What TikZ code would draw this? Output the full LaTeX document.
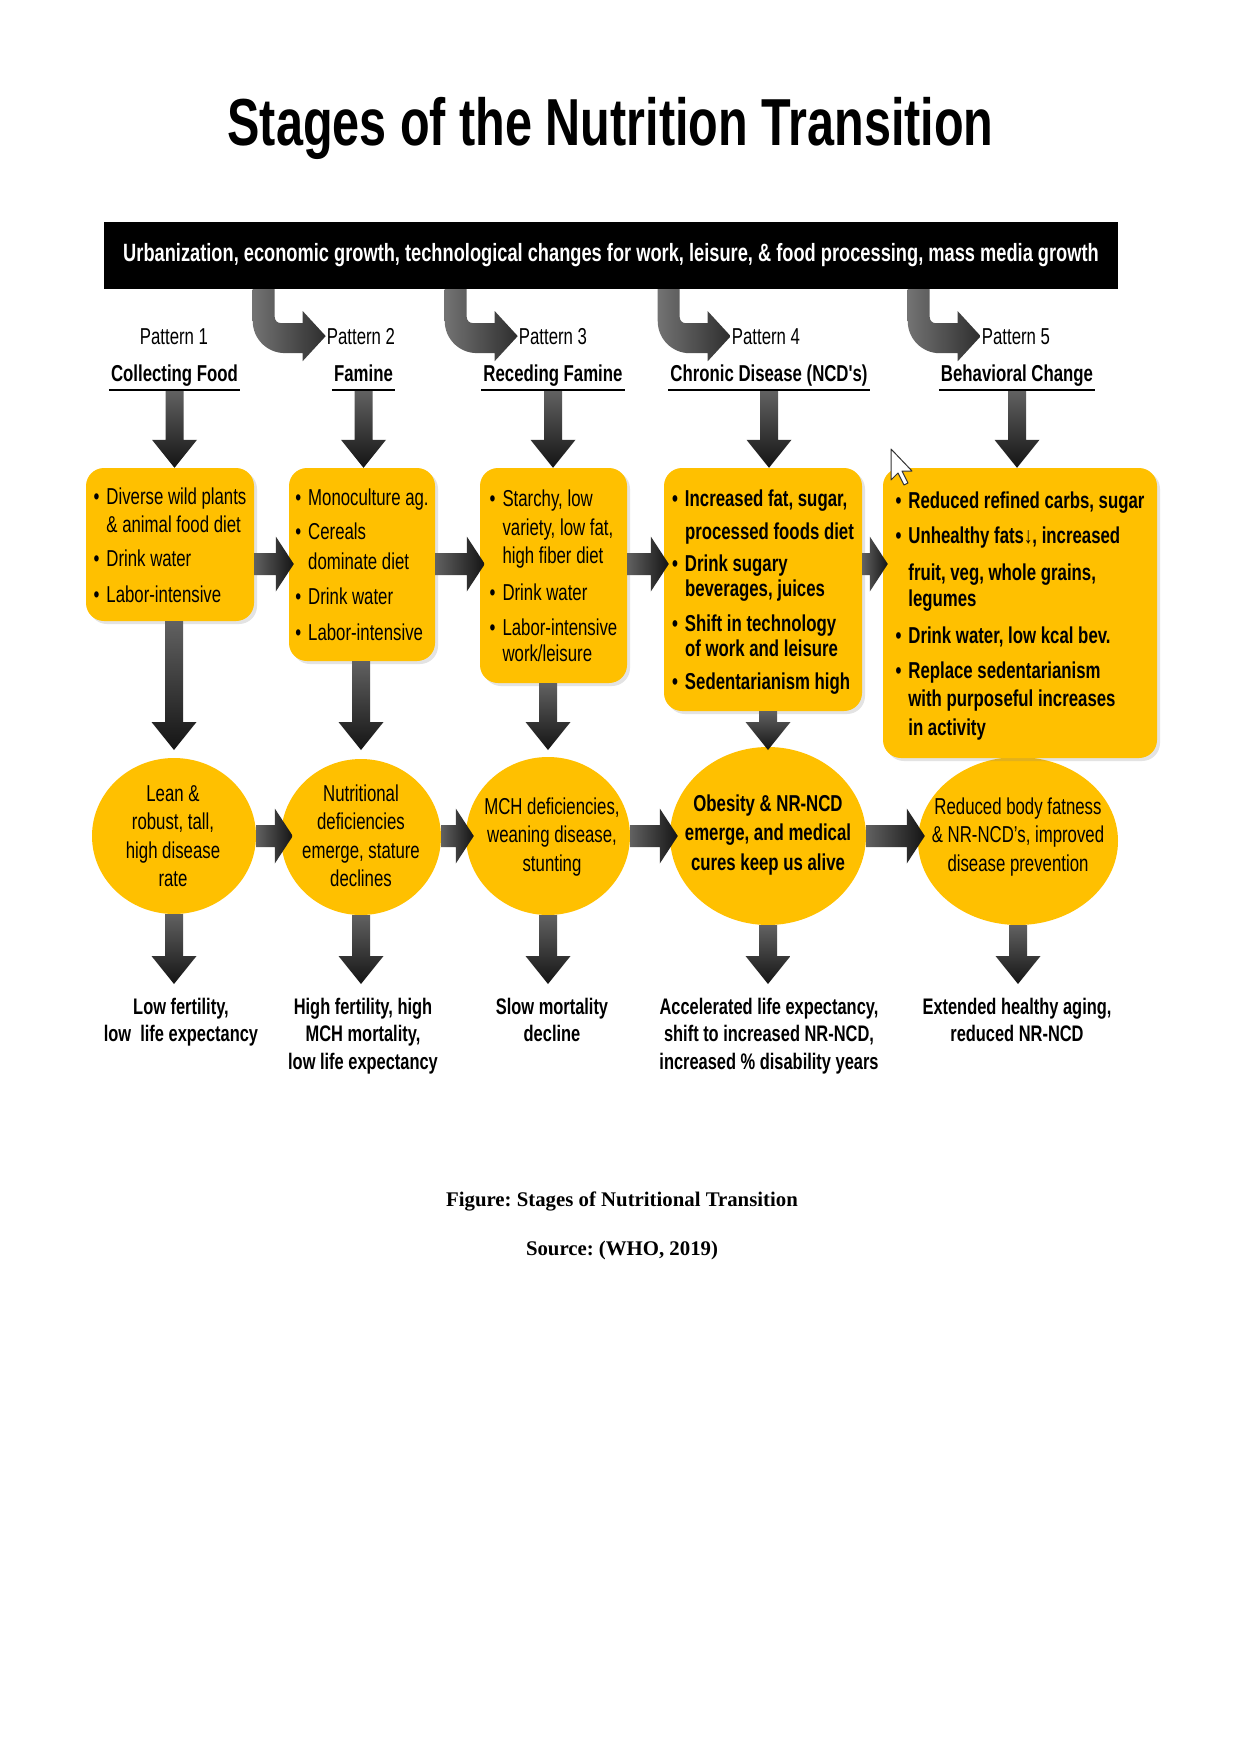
\documentclass[tikz,border=0pt]{standalone}
\usepackage{fontspec}
\usetikzlibrary{calc,shapes.geometric,shadows}
\newfontfamily\nar{Liberation Sans}[FakeStretch=0.73]
\newfontfamily\capfont{Liberation Serif}
\definecolor{gold}{RGB}{255,192,0}
\colorlet{arrA}{black!62}
\colorlet{arrB}{black!92}
\newcommand\dn[1]{\raisebox{-3.5pt}[\height][\depth]{#1}}
% vertical fat arrow: start (y only used), tip
\newcommand\varr[2]{\shade[top color=arrA,bottom color=arrB] let \p1=(#1),\p2=(#2) in
  (\x2-9pt,\y1) -- (\x2+9pt,\y1) -- (\x2+9pt,\y2+28pt) -- (\x2+22.5pt,\y2+28pt) -- (\x2,\y2)
  -- (\x2-22.5pt,\y2+28pt) -- (\x2-9pt,\y2+28pt) -- cycle;}
% horizontal fat arrow: start (x only used), tip
\newcommand\harr[2]{\shade[left color=arrA,right color=arrB] let \p1=(#1),\p2=(#2) in
  (\x1,\y2+11pt) -- (\x2-18pt,\y2+11pt) -- (\x2-18pt,\y2+27.5pt) -- (\x2,\y2)
  -- (\x2-18pt,\y2-27.5pt) -- (\x2-18pt,\y2-11pt) -- (\x1,\y2-11pt) -- cycle;}
% bent arrow from the banner to a pattern label
\newcommand\carr[1]{\shade[left color=black!55,right color=black!82] let \p1=(banner.south),\p2=(#1) in
  (\x2-73pt,\y1) -- (\x2-73pt,\y2+15pt) arc[start angle=180,end angle=270,radius=32pt]
  -- (\x2-23pt,\y2-17pt) -- (\x2-23pt,\y2-25pt) -- (\x2,\y2) -- (\x2-23pt,\y2+25pt)
  -- (\x2-23pt,\y2+13pt) -- (\x2-45pt,\y2+13pt) arc[start angle=270,end angle=180,radius=6pt]
  -- (\x2-51pt,\y1) -- cycle;}
\tikzset{
  rg/.style={font=\nar\frenchspacing\fontsize{23}{27}\selectfont},
  bd/.style={font=\nar\frenchspacing\bfseries\fontsize{23}{27}\selectfont},
  pat/.style={rg,anchor=base,inner sep=1pt},
  ttl/.style={bd,anchor=base,inner xsep=2pt,inner ysep=1pt},
  ybox/.style={fill=gold,rounded corners=18pt,inner sep=0pt,
    drop shadow={shadow xshift=3pt,shadow yshift=-3pt,opacity=0.22}},
  ycirc/.style={ellipse,fill=gold,inner sep=0pt},
  crg/.style={align=center,inner sep=0pt,font=\nar\frenchspacing\fontsize{23}{28.5}\selectfont},
  cbd/.style={align=center,inner sep=0pt,font=\nar\frenchspacing\bfseries\fontsize{23}{29.5}\selectfont},
  btm/.style={anchor=base,inner sep=0pt,font=\nar\frenchspacing\bfseries\fontsize{22.5}{27.5}\selectfont},
  capt/.style={anchor=base,inner sep=0pt,font=\capfont\frenchspacing\bfseries\fontsize{20.8}{25}\selectfont}
}
\begin{document}
\begin{tikzpicture}[x=1pt,y=-1pt]
\useasboundingbox[fill=white] (0,0) rectangle (1241,1754);
% title and banner
\node[anchor=base,font=\nar\bfseries\fontsize{66.5}{70}\selectfont] (title) at (610.5,145) {Stages of the Nutrition Transition};
\node[fill=black,text=white,minimum width=1014pt,minimum height=67pt,inner sep=0pt,
  font=\nar\frenchspacing\bfseries\fontsize{25}{29}\selectfont] (banner) at (611,255.5)
  {Urbanization, economic growth, technological changes for work, leisure, \& food processing, mass media growth};
% pattern headers
\node[pat] (p1) at (174,344) {Pattern 1};
\node[pat] (p2) at (361,344) {Pattern 2};
\node[pat] (p3) at (553,344) {Pattern 3};
\node[pat] (p4) at (766,344) {Pattern 4};
\node[pat] (p5) at (1016,344) {Pattern 5};
\node[ttl] (t1) at (174.5,381) {Collecting Food};
\node[ttl] (t2) at (363.5,381) {Famine};
\node[ttl] (t3) at (553,381) {Receding Famine};
\node[ttl] (t4) at (769,381) {Chronic Disease (NCD's)};
\node[ttl] (t5) at (1017,381) {Behavioral Change};
\foreach \i in {1,...,5}{\draw[line width=2.5pt] ($(t\i.base west)+(0,9)$) -- ($(t\i.base east)+(0,9)$);}
% bent arrows
\carr{p2.west}
\carr{p3.west}
\carr{p4.west}
\carr{p5.west}
% row coordinates
\coordinate (rowA) at (0,564);
\coordinate (rowB) at (0,750);
\coordinate (rowC) at (0,984);
\coordinate (rowD) at (0,836);
% circles
\node[ycirc,minimum width=164pt,minimum height=156pt] (o1) at (174,836) {};
\node[ycirc,minimum width=160pt,minimum height=156pt] (o2) at (361,837) {};
\node[ycirc,minimum width=164pt,minimum height=158pt] (o3) at (548,836) {};
\node[ycirc,minimum width=196pt,minimum height=178pt] (o4) at (768,836) {};
\node[ycirc,minimum width=200pt,minimum height=168pt] (o5) at (1018,841) {};
\node[crg] (o1t) at (173,836) {Lean \&\\robust, tall,\\high disease\\rate};
\node[crg] (o2t) at (361,836) {Nutritional\\deficiencies\\emerge, stature\\declines};
\node[crg] (o3t) at (552,837) {MCH deficiencies,\\weaning disease,\\stunting};
\node[cbd] (o4t) at (768,835) {Obesity \& NR-NCD\\emerge, and medical\\cures keep us alive};
\node[crg] (o5t) at (1018,837) {Reduced body fatness\\\& NR-NCD’s, improved\\disease prevention};
% boxes
\node[ybox,rg,minimum width=168pt,minimum height=153pt] (b1) at (170,544.5) {\dn{%
\begin{tabular}{@{}l@{\hspace{7pt}}l@{}}
\textbullet & Diverse wild plants\\[1pt]
 & \& animal food diet\\[7pt]
\textbullet & Drink water\\[9pt]
\textbullet & Labor-intensive
\end{tabular}}};
\node[ybox,rg,minimum width=146pt,minimum height=193pt] (b2) at (362,564.5) {\dn{%
\begin{tabular}{@{}l@{\hspace{7pt}}l@{}}
\textbullet & Monoculture ag.\\[7pt]
\textbullet & Cereals\\[3pt]
 & dominate diet\\[8pt]
\textbullet & Drink water\\[9pt]
\textbullet & Labor-intensive
\end{tabular}}};
\node[ybox,rg,minimum width=147pt,minimum height=215pt] (b3) at (553.5,575.5) {\dn{%
\begin{tabular}{@{}l@{\hspace{7pt}}l@{}}
\textbullet & Starchy, low\\[2pt]
 & variety, low fat,\\[1pt]
 & high fiber diet\\[10pt]
\textbullet & Drink water\\[8pt]
\textbullet & Labor-intensive\\[-1pt]
 & work/leisure
\end{tabular}}};
\node[ybox,bd,minimum width=198pt,minimum height=243pt] (b4) at (763,589.5) {\dn{%
\begin{tabular}{@{}l@{\hspace{7pt}}l@{}}
\textbullet & Increased fat, sugar,\\[6pt]
 & processed foods diet\\[5pt]
\textbullet & Drink sugary\\[-2pt]
 & beverages, juices\\[8pt]
\textbullet & Shift in technology\\[-2pt]
 & of work and leisure\\[6pt]
\textbullet & Sedentarianism high
\end{tabular}}};
\node[ybox,bd,minimum width=274pt,minimum height=290pt] (b5) at (1020,613) {\dn{%
\begin{tabular}{@{}l@{\hspace{7pt}}l@{}}
\textbullet & Reduced refined carbs, sugar\\[8pt]
\textbullet & Unhealthy fats↓, increased\\[10pt]
 & fruit, veg, whole grains,\\[-1pt]
 & legumes\\[10pt]
\textbullet & Drink water, low kcal bev.\\[8pt]
\textbullet & Replace sedentarianism\\[1pt]
 & with purposeful increases\\[2pt]
 & in activity
\end{tabular}}};
% arrows: headers to boxes
\foreach \i in {1,...,5}{\varr{$(t\i.base)+(0,10)$}{t\i.base |- b\i.north}}
% arrows between boxes
\harr{b1.east |- rowA}{$(b2.west |- rowA)+(5,0)$}
\harr{b2.east |- rowA}{$(b3.west |- rowA)+(5,0)$}
\harr{b3.east |- rowA}{$(b4.west |- rowA)+(5,0)$}
\harr{b4.east |- rowA}{$(b5.west |- rowA)+(5,0)$}
% arrows: boxes to circles
\foreach \i in {1,...,4}{\varr{b\i.south}{o\i.north |- rowB}}
% arrows between circles
\harr{o1.east |- rowD}{$(o2.west |- rowD)+(12,0)$}
\harr{o2.east |- rowD}{$(o3.west |- rowD)+(8,0)$}
\harr{o3.east |- rowD}{$(o4.west |- rowD)+(8,0)$}
\harr{o4.east |- rowD}{$(o5.west |- rowD)+(7,0)$}
% arrows: circles to outcomes
\foreach \i in {1,...,5}{\varr{o\i.south}{o\i.south |- rowC}}
% outcomes
\node[btm] (e1) at (181,1014) {\begin{tabular}[t]{@{}c@{}}Low fertility,\\low\ \ life expectancy\end{tabular}};
\node[btm] (e2) at (363,1014) {\begin{tabular}[t]{@{}c@{}}High fertility, high\\MCH mortality,\\low life expectancy\end{tabular}};
\node[btm] (e3) at (552,1014) {\begin{tabular}[t]{@{}c@{}}Slow mortality\\decline\end{tabular}};
\node[btm] (e4) at (769,1014) {\begin{tabular}[t]{@{}c@{}}Accelerated life expectancy,\\shift to increased NR-NCD,\\increased \% disability years\end{tabular}};
\node[btm] (e5) at (1017,1014) {\begin{tabular}[t]{@{}c@{}}Extended healthy aging,\\reduced NR-NCD\end{tabular}};
% caption
\node[capt] (cap1) at (622,1206) {Figure: Stages of Nutritional Transition};
\node[capt] (cap2) at (622,1255) {Source: (WHO, 2019)};
% mouse cursor
\coordinate (cur) at (891,449);
\draw[fill=white,draw=black!80,line width=1pt,line join=round] (cur) -- ++(0,31) -- ++(7,-7) -- ++(6,12) -- ++(4,-2) -- ++(-6,-12) -- ++(10,0) -- cycle;
\end{tikzpicture}
\end{document}
